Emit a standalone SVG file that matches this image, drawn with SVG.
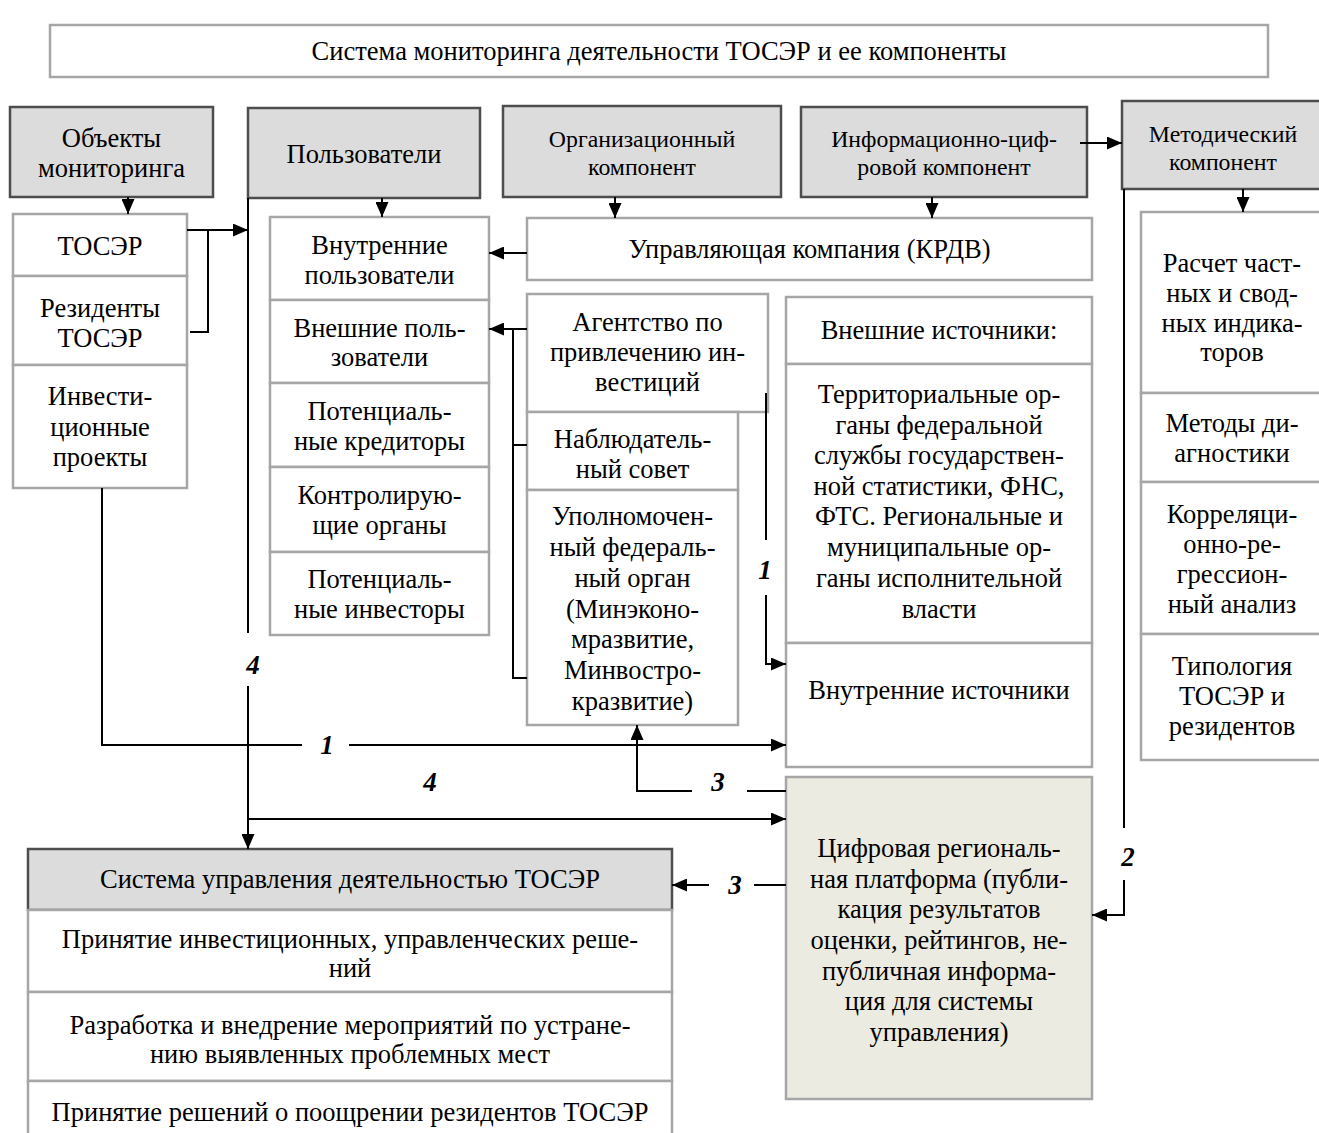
<svg xmlns="http://www.w3.org/2000/svg" width="1319" height="1133" viewBox="0 0 1319 1133">
<style>
text{font-family:"Liberation Serif","Times New Roman",serif;font-size:26.5px;fill:#000;text-anchor:middle}
.sm{font-size:23.8px}
.num{font-weight:bold;font-style:italic;font-size:27px}
.box{fill:#fff;stroke:#a6a6a6;stroke-width:2.5}
.hdr{fill:#dcdcdc;stroke:#4d4d4d;stroke-width:2.5}
.plat{fill:#ecebe1;stroke:#a6a6a6;stroke-width:2.5}
.ln{fill:none;stroke:#000;stroke-width:2}
</style>
<defs>
<marker id="ah" markerUnits="userSpaceOnUse" markerWidth="15" markerHeight="13" refX="15" refY="6.5" orient="auto">
<path d="M0,0 L15,6.5 L0,13 z" fill="#000"/>
</marker>
</defs>
<rect width="1319" height="1133" fill="#fff"/>

<g id="title"><rect class="box" x="50" y="25" width="1218" height="52"/><text x="659" y="60">Система мониторинга деятельности ТОСЭР и ее компоненты</text></g>

<g id="objects-hdr"><rect class="hdr" x="10" y="107" width="203" height="90"/><text x="111.5" y="147">Объекты</text><text x="111.5" y="177">мониторинга</text></g>
<g id="users-hdr"><rect class="hdr" x="248" y="108" width="232" height="90"/><text x="364" y="163">Пользователи</text></g>
<g id="org-hdr"><rect class="hdr" x="503" y="106" width="278" height="91"/><text class="sm" x="642" y="147">Организационный</text><text class="sm" x="642" y="175">компонент</text></g>
<g id="info-hdr"><rect class="hdr" x="801" y="107" width="286" height="90"/><text class="sm" x="944" y="147">Информационно-циф-</text><text class="sm" x="944" y="175">ровой компонент</text></g>
<g id="method-hdr"><rect class="hdr" x="1122" y="101" width="202" height="88"/><text class="sm" x="1223" y="142">Методический</text><text class="sm" x="1223" y="170">компонент</text></g>

<g id="toser"><rect class="box" x="13" y="214" width="174" height="62"/><text x="100" y="255">ТОСЭР</text></g>
<g id="residents"><rect class="box" x="13" y="276" width="174" height="89"/><text x="100" y="317">Резиденты</text><text x="100" y="347">ТОСЭР</text></g>
<g id="projects"><rect class="box" x="13" y="365" width="174" height="123"/><text x="100" y="405">Инвести-</text><text x="100" y="436">ционные</text><text x="100" y="466">проекты</text></g>

<g id="int-users"><rect class="box" x="270" y="217" width="219" height="83"/><text x="379.5" y="254">Внутренние</text><text x="379.5" y="284">пользователи</text></g>
<g id="ext-users"><rect class="box" x="270" y="300" width="219" height="83"/><text x="379.5" y="337">Внешние поль-</text><text x="379.5" y="366">зователи</text></g>
<g id="creditors"><rect class="box" x="270" y="383" width="219" height="84"/><text x="379.5" y="420">Потенциаль-</text><text x="379.5" y="450">ные кредиторы</text></g>
<g id="control"><rect class="box" x="270" y="467" width="219" height="85"/><text x="379.5" y="504">Контролирую-</text><text x="379.5" y="534">щие органы</text></g>
<g id="investors"><rect class="box" x="270" y="552" width="219" height="83"/><text x="379.5" y="588">Потенциаль-</text><text x="379.5" y="618">ные инвесторы</text></g>

<g id="mgmt-co"><rect class="box" x="527" y="218" width="565" height="62"/><text x="809.5" y="258">Управляющая компания (КРДВ)</text></g>
<g id="agency"><rect class="box" x="527" y="294" width="241" height="118"/><text x="647.5" y="331">Агентство по</text><text x="647.5" y="361">привлечению ин-</text><text x="647.5" y="391">вестиций</text></g>
<g id="council"><rect class="box" x="527" y="412" width="211" height="78"/><text x="632.5" y="448">Наблюдатель-</text><text x="632.5" y="478">ный совет</text></g>
<g id="fed-organ"><rect class="box" x="527" y="490" width="211" height="235"/>
<text x="632.5" y="525">Уполномочен-</text><text x="632.5" y="556">ный федераль-</text><text x="632.5" y="587">ный орган</text><text x="632.5" y="618">(Минэконо-</text><text x="632.5" y="648">мразвитие,</text><text x="632.5" y="679">Минвостро-</text><text x="632.5" y="710">кразвитие)</text></g>

<g id="ext-src"><rect class="box" x="786" y="297" width="306" height="67"/><text x="939" y="339">Внешние источники:</text></g>
<g id="territorial"><rect class="box" x="786" y="364" width="306" height="279"/>
<text x="939" y="403">Территориальные ор-</text><text x="939" y="434">ганы федеральной</text><text x="939" y="464">службы государствен-</text><text x="939" y="495">ной статистики, ФНС,</text><text x="939" y="525">ФТС. Региональные и</text><text x="939" y="556">муниципальные ор-</text><text x="939" y="587">ганы исполнительной</text><text x="939" y="618">власти</text></g>
<g id="int-src"><rect class="box" x="786" y="643" width="306" height="124"/><text x="939" y="699">Внутренние источники</text></g>

<g id="platform"><rect class="plat" x="786" y="777" width="306" height="322"/>
<text x="939" y="857">Цифровая региональ-</text><text x="939" y="888">ная платформа (публи-</text><text x="939" y="918">кация результатов</text><text x="939" y="949">оценки, рейтингов, не-</text><text x="939" y="980">публичная информа-</text><text x="939" y="1010">ция для системы</text><text x="939" y="1041">управления)</text></g>

<g id="calc"><rect class="box" x="1141" y="212" width="182" height="181"/><text x="1232" y="272">Расчет част-</text><text x="1232" y="302">ных и свод-</text><text x="1232" y="332">ных индика-</text><text x="1232" y="361">торов</text></g>
<g id="diag"><rect class="box" x="1141" y="393" width="182" height="89"/><text x="1232" y="432">Методы ди-</text><text x="1232" y="462">агностики</text></g>
<g id="corr"><rect class="box" x="1141" y="482" width="182" height="152"/><text x="1232" y="523">Корреляци-</text><text x="1232" y="553">онно-ре-</text><text x="1232" y="583">грессион-</text><text x="1232" y="613">ный анализ</text></g>
<g id="typology"><rect class="box" x="1141" y="634" width="182" height="126"/><text x="1232" y="675">Типология</text><text x="1232" y="705">ТОСЭР и</text><text x="1232" y="735">резидентов</text></g>

<g id="mgmt-sys-hdr"><rect class="hdr" x="28" y="849" width="644" height="61"/><text x="350" y="888">Система управления деятельностью ТОСЭР</text></g>
<g id="decisions"><rect class="box" x="28" y="910" width="644" height="82"/><text x="350" y="948">Принятие инвестиционных, управленческих реше-</text><text x="350" y="977">ний</text></g>
<g id="measures"><rect class="box" x="28" y="992" width="644" height="89"/><text x="350" y="1034">Разработка и внедрение мероприятий по устране-</text><text x="350" y="1063">нию выявленных проблемных мест</text></g>
<g id="rewards"><rect class="box" x="28" y="1081" width="644" height="70"/><text x="350" y="1121">Принятие решений о поощрении резидентов ТОСЭР</text></g>

<g id="connectors">
<path class="ln" d="M128,197 V214" marker-end="url(#ah)"/>
<path class="ln" d="M382,198 V217" marker-end="url(#ah)"/>
<path class="ln" d="M615,197 V218" marker-end="url(#ah)"/>
<path class="ln" d="M932,197 V218" marker-end="url(#ah)"/>
<path class="ln" d="M1080,143 H1122" marker-end="url(#ah)"/>
<path class="ln" d="M1243,189 V212" marker-end="url(#ah)"/>
<path class="ln" d="M187,230 H248" marker-end="url(#ah)"/>
<path class="ln" d="M190,332 H208 V230"/>
<path class="ln" d="M248,198 V633"/>
<path class="ln" d="M248,686 V849" marker-end="url(#ah)"/>
<path class="ln" d="M248,819 H786" marker-end="url(#ah)"/>
<path class="ln" d="M102,488 V745 H302"/>
<path class="ln" d="M349,745 H786" marker-end="url(#ah)"/>
<path class="ln" d="M527,253 H489" marker-end="url(#ah)"/>
<path class="ln" d="M527,329 H489" marker-end="url(#ah)"/>
<path class="ln" d="M513,329 V678 H527 M513,445 H527"/>
<path class="ln" d="M766,393 V540"/>
<path class="ln" d="M766,595 V664 H786" marker-end="url(#ah)"/>
<path class="ln" d="M786,791 H747"/>
<path class="ln" d="M692,791 H637 V725" marker-end="url(#ah)"/>
<path class="ln" d="M786,885 H754"/>
<path class="ln" d="M709,885 H672" marker-end="url(#ah)"/>
<path class="ln" d="M1124,189 V828"/>
<path class="ln" d="M1124,880 V915 H1092" marker-end="url(#ah)"/>
<text class="num" x="253" y="674">4</text>
<text class="num" x="430" y="791">4</text>
<text class="num" x="327" y="754">1</text>
<text class="num" x="765" y="579">1</text>
<text class="num" x="718" y="791">3</text>
<text class="num" x="735" y="894">3</text>
<text class="num" x="1128" y="866">2</text>
</g>
</svg>
